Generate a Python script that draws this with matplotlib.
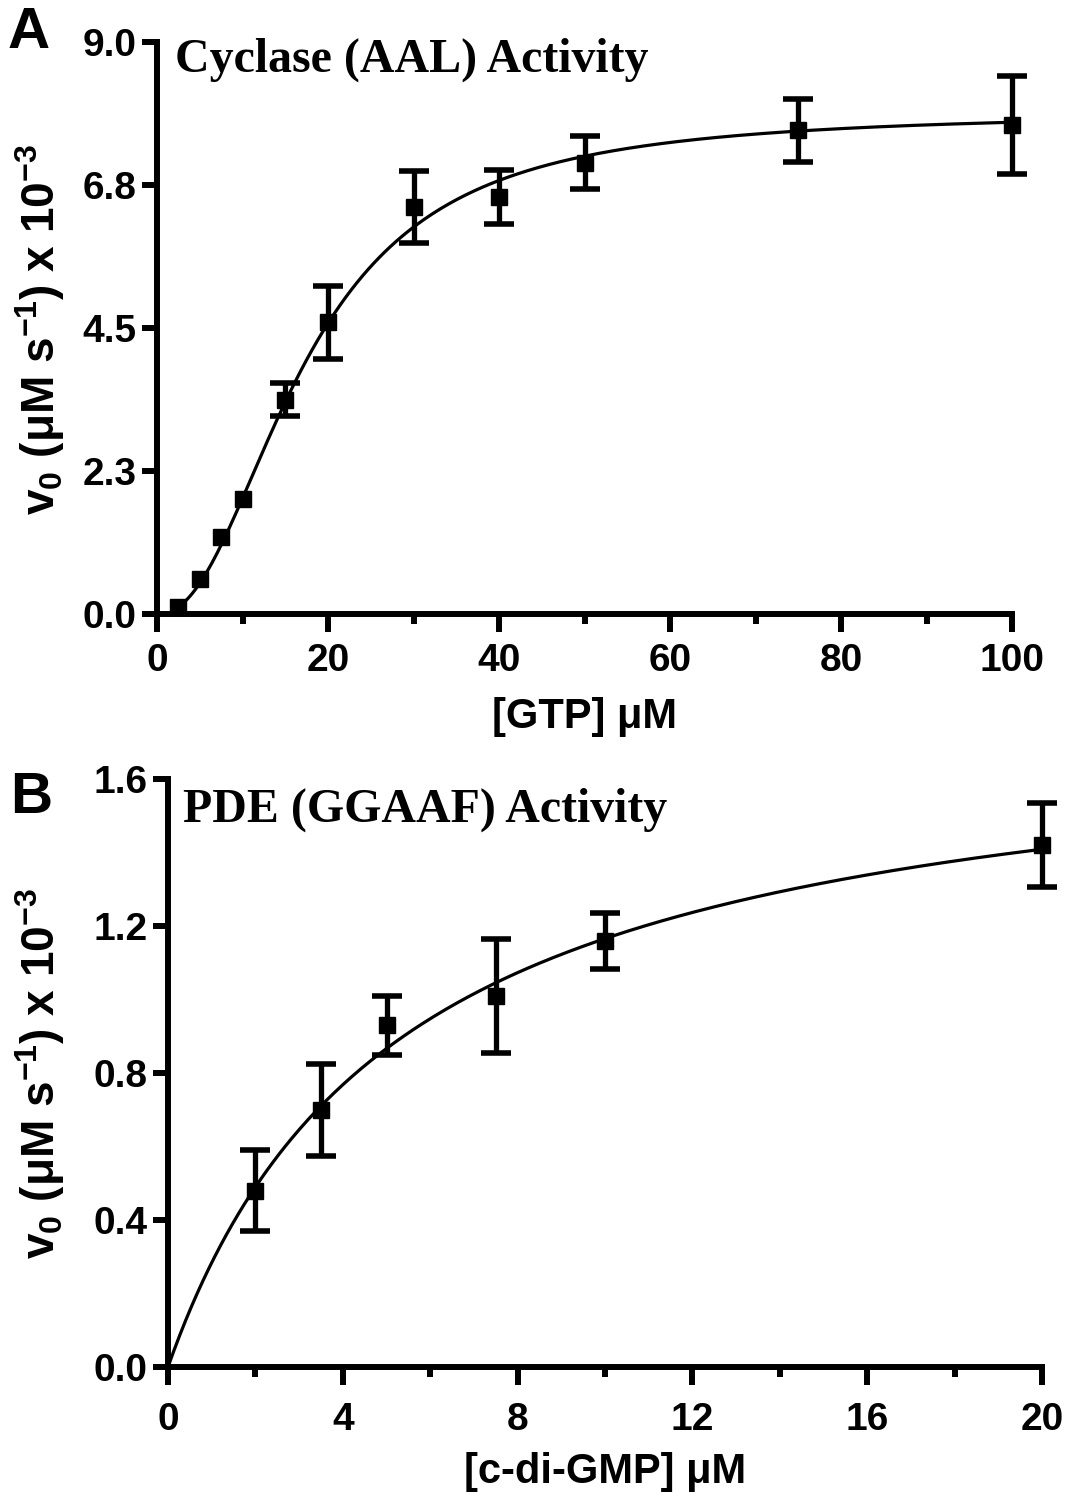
import matplotlib
matplotlib.use("Agg")
import matplotlib.pyplot as plt
import numpy as np

# Panel A: cyclase activity vs [GTP]
gtp = [2.5, 5, 7.5, 10, 15, 20, 30, 40, 50, 75, 100]
v_cyc = [0.11, 0.55, 1.21, 1.81, 3.37, 4.59, 6.40, 6.56, 7.10, 7.61, 7.70]
err_cyc = [0.0, 0.0, 0.0, 0.0, 0.26, 0.57, 0.57, 0.42, 0.42, 0.50, 0.77]
# Hill fit shown in the figure
hill_vmax, hill_k, hill_n = 7.9, 17.3, 2.2

# Panel B: PDE activity vs [c-di-GMP]
cdg = [2, 3.5, 5, 7.5, 10, 20]
v_pde = [0.48, 0.70, 0.93, 1.01, 1.16, 1.42]
err_pde = [0.11, 0.125, 0.08, 0.155, 0.076, 0.115]
# Michaelis-Menten fit
mm_vmax, mm_km = 1.78, 5.27

yticks_a = [0, 2.25, 4.5, 6.75, 9.0]
ylabels_a = ["0.0", "2.3", "4.5", "6.8", "9.0"]
yticks_b = [0, 0.4, 0.8, 1.2, 1.6]
ylabels_b = ["0.0", "0.4", "0.8", "1.2", "1.6"]

SANS = "Liberation Sans"
SERIF = "Liberation Serif"
plt.rcParams['font.family'] = [SANS, 'DejaVu Sans']
plt.rcParams['mathtext.fontset'] = 'custom'
plt.rcParams['mathtext.rm'] = 'Liberation Sans:bold'
plt.rcParams['mathtext.it'] = 'Liberation Sans:bold'
plt.rcParams['mathtext.bf'] = 'Liberation Sans:bold'

W, H = 1068, 1500
fig = plt.figure(figsize=(W / 100, H / 100), dpi=100)


def style(ax):
    for s in ['top', 'right']:
        ax.spines[s].set_visible(False)
    for s in ['left', 'bottom']:
        ax.spines[s].set_linewidth(4.3)
        ax.spines[s].set_capstyle('projecting')
    ax.tick_params(which='both', direction='out', width=4.3, labelsize=28)
    ax.tick_params(axis='x', which='major', length=13, pad=8)
    ax.tick_params(axis='x', which='minor', length=7)
    ax.tick_params(axis='y', which='major', length=11, pad=4)
    ax.tick_params(axis='y', which='minor', length=0)
    for lab in ax.get_xticklabels() + ax.get_yticklabels():
        lab.set_fontweight('bold')


def errs(ax, x, y, e):
    x, y, e = np.array(x), np.array(y), np.array(e)
    has = e > 0
    ax.errorbar(x[has], y[has], yerr=e[has], fmt='none', ecolor='black',
                elinewidth=3.8, capsize=11, capthick=4, clip_on=False, zorder=3)
    ax.plot(x, y, 's', color='black', ms=11, clip_on=False, zorder=4)


# ---- panel A
axA = fig.add_axes([157 / W, 1 - 614 / H, (1012 - 157) / W, (614 - 42) / H])
xs = np.linspace(2.5, 100, 300)
axA.plot(xs, hill_vmax * (xs / hill_k) ** hill_n / (1 + (xs / hill_k) ** hill_n),
         color='black', lw=2.3, clip_on=False)
errs(axA, gtp, v_cyc, err_cyc)
axA.set_xlim(0, 100)
axA.set_ylim(0, 9)
axA.set_xticks(range(0, 101, 20))
axA.set_xticks(range(10, 100, 20), minor=True)
axA.set_yticks(yticks_a)
axA.set_yticklabels(ylabels_a)
style(axA)
axA.set_xlabel("[GTP] μM", fontsize=30, fontweight='bold', labelpad=13)
axA.text(0.021, 0.948, "Cyclase (AAL) Activity", transform=axA.transAxes,
         family=SERIF, fontsize=34.5, fontweight='bold', va='baseline')

# ---- panel B
axB = fig.add_axes([168 / W, 1 - 1367 / H, (1042 - 168) / W, (1367 - 779) / H])
xs = np.linspace(0, 20, 300)
axB.plot(xs, mm_vmax * xs / (mm_km + xs), color='black', lw=2.3, clip_on=False)
errs(axB, cdg, v_pde, err_pde)
axB.set_xlim(0, 20)
axB.set_ylim(0, 1.6)
axB.set_xticks(range(0, 21, 4))
axB.set_xticks(range(2, 20, 4), minor=True)
axB.set_yticks(yticks_b)
axB.set_yticklabels(ylabels_b)
style(axB)
axB.tick_params(axis='x', which='major', pad=12)
axB.set_xlabel("[c-di-GMP] μM", fontsize=30, fontweight='bold', labelpad=10)
axB.text(0.017, 0.927, "PDE (GGAAF) Activity", transform=axB.transAxes,
         family=SERIF, fontsize=34.5, fontweight='bold', va='baseline')

ylab = r"v$_0$ (μM s$^{-1}$) x 10$^{-3}$"
fig.text(40 / W, 1 - 329 / H, ylab, rotation=90, fontsize=33, fontweight='bold',
         ha='center', va='center')
fig.text(40 / W, 1 - 1073 / H, ylab, rotation=90, fontsize=33, fontweight='bold',
         ha='center', va='center')

fig.text(8 / W, 1 - 48 / H, "A", fontsize=42, fontweight='bold', va='baseline')
fig.text(10 / W, 1 - 813 / H, "B", fontsize=42, fontweight='bold', va='baseline')

fig.savefig("out.png", dpi=100)
